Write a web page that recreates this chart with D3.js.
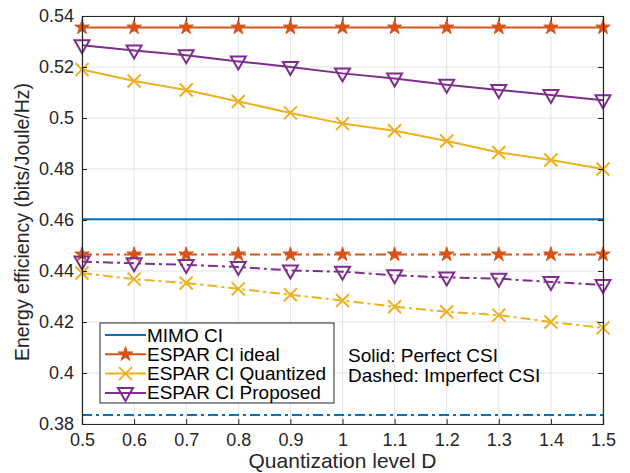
<!DOCTYPE html>
<html>
<head>
<meta charset="utf-8">
<script src="https://cdn.jsdelivr.net/npm/d3@7"></script>
<style>
  body { margin: 0; background: #fff; }
  svg { font-family: "Liberation Sans", Arial, sans-serif; }
</style>
</head>
<body>
<svg id="chart" width="630" height="473"></svg>
<script>
// data
const levels = [0.5, 0.6, 0.7, 0.8, 0.9, 1.0, 1.1, 1.2, 1.3, 1.4, 1.5];
const mimoPerfect = [0.4603, 0.4603, 0.4603, 0.4603, 0.4603, 0.4603, 0.4603, 0.4603, 0.4603, 0.4603, 0.4603];
const mimoImperfect = [0.3835, 0.3835, 0.3835, 0.3835, 0.3835, 0.3835, 0.3835, 0.3835, 0.3835, 0.3835, 0.3835];
const idealPerfect = [0.5355, 0.5355, 0.5355, 0.5355, 0.5355, 0.5355, 0.5355, 0.5355, 0.5355, 0.5355, 0.5355];
const idealImperfect = [0.4465, 0.4465, 0.4465, 0.4465, 0.4465, 0.4465, 0.4465, 0.4465, 0.4465, 0.4465, 0.4465];
const quantPerfect = [0.519, 0.5145, 0.511, 0.5065, 0.502, 0.4978, 0.495, 0.491, 0.4865, 0.4835, 0.480];
const quantImperfect = [0.4392, 0.4368, 0.4353, 0.4330, 0.4307, 0.4284, 0.4260, 0.4240, 0.4227, 0.4200, 0.4177];
const propPerfect = [0.5285, 0.5265, 0.5246, 0.5222, 0.5200, 0.5175, 0.5155, 0.5130, 0.5110, 0.5090, 0.5070];
const propImperfect = [0.4437, 0.4430, 0.4424, 0.4416, 0.4402, 0.4397, 0.4383, 0.4375, 0.4370, 0.4357, 0.4345];
const xTicks = [0.5, 0.6, 0.7, 0.8, 0.9, 1, 1.1, 1.2, 1.3, 1.4, 1.5];
const yTicks = [0.38, 0.4, 0.42, 0.44, 0.46, 0.48, 0.5, 0.52, 0.54];

const series = [
  {name: "MIMO CI", color: "#0072BD", marker: "none", perfect: mimoPerfect, imperfect: mimoImperfect},
  {name: "ESPAR CI ideal", color: "#D95319", marker: "star", perfect: idealPerfect, imperfect: idealImperfect},
  {name: "ESPAR CI Quantized", color: "#EDB120", marker: "x", perfect: quantPerfect, imperfect: quantImperfect},
  {name: "ESPAR CI Proposed", color: "#7E2F8E", marker: "tri", perfect: propPerfect, imperfect: propImperfect}
];

const svg = d3.select("#chart");
const margin = {top: 16, right: 27, bottom: 49, left: 82};
const width = 630 - margin.left - margin.right,
      height = 473 - margin.top - margin.bottom;

const g = svg.append("g").attr("transform", `translate(${margin.left},${margin.top})`);

const x = d3.scaleLinear().domain([0.5, 1.5]).range([0, width]);
const y = d3.scaleLinear().domain([0.38, 0.54]).range([height, 0]);

// grid
g.append("g").selectAll("line").data(xTicks).join("line")
  .attr("x1", d => x(d)).attr("x2", d => x(d))
  .attr("y1", 0).attr("y2", height)
  .attr("stroke", "#e3e3e3").attr("stroke-width", 1);
g.append("g").selectAll("line").data(yTicks).join("line")
  .attr("y1", d => y(d)).attr("y2", d => y(d))
  .attr("x1", 0).attr("x2", width)
  .attr("stroke", "#e3e3e3").attr("stroke-width", 1);

// markers
function drawMarker(sel, type, color) {
  if (type === "star") {
    sel.append("path")
      .attr("d", d3.symbol().type(d3.symbolStar).size(65)())
      .attr("fill", color).attr("stroke", color).attr("stroke-width", 1);
  } else if (type === "x") {
    sel.append("path").attr("d", "M-6.5,-6.5L6.5,6.5M-6.5,6.5L6.5,-6.5")
      .attr("stroke", color).attr("stroke-width", 2).attr("fill", "none");
  } else if (type === "tri") {
    sel.append("path").attr("d", "M-7.5,-5L7.5,-5L0,8Z")
      .attr("stroke", color).attr("stroke-width", 2).attr("fill", "none");
  }
}

const line = d3.line().x((d, i) => x(levels[i])).y(d => y(d));

series.forEach(s => {
  [["perfect", null], ["imperfect", "10,4,3,4"]].forEach(([key, dash]) => {
    g.append("path").datum(s[key])
      .attr("fill", "none").attr("stroke", s.color).attr("stroke-width", 2)
      .attr("stroke-dasharray", dash)
      .attr("d", line);
    if (s.marker !== "none") {
      s[key].forEach((v, i) => {
        const m = g.append("g").attr("transform", `translate(${x(levels[i])},${y(v)})`);
        drawMarker(m, s.marker, s.color);
      });
    }
  });
});

// axes (box, inward ticks)
const axisColor = "#262626";
const xAxis = g.append("g").attr("transform", `translate(0,${height})`)
  .call(d3.axisBottom(x).tickValues(xTicks).tickSize(-5).tickPadding(9).tickFormat(d3.format("")));
const xAxisTop = g.append("g")
  .call(d3.axisTop(x).tickValues(xTicks).tickSize(-5).tickFormat(""));
const yAxis = g.append("g")
  .call(d3.axisLeft(y).tickValues(yTicks).tickSize(-5).tickPadding(8).tickFormat(d3.format("")));
const yAxisRight = g.append("g").attr("transform", `translate(${width},0)`)
  .call(d3.axisRight(y).tickValues(yTicks).tickSize(-5).tickFormat(""));

[xAxis, xAxisTop, yAxis, yAxisRight].forEach(a => {
  a.select(".domain").attr("stroke", axisColor).attr("stroke-width", 1.2);
  a.selectAll(".tick line").attr("stroke", axisColor);
  a.selectAll("text").attr("fill", "#262626").style("font-size", "18px")
    .style("font-family", "Liberation Sans, Arial, sans-serif");
});

// axis labels
svg.append("text")
  .attr("x", margin.left + width / 2).attr("y", 468)
  .attr("text-anchor", "middle").attr("fill", "#262626")
  .style("font-size", "21px")
  .text("Quantization level D");
svg.append("text")
  .attr("transform", `translate(29,${margin.top + height / 2 + 2}) rotate(-90)`)
  .attr("text-anchor", "middle").attr("fill", "#262626")
  .style("font-size", "19.5px")
  .text("Energy efficiency (bits/Joule/Hz)");

// legend
const lg = svg.append("g").attr("transform", "translate(100,323)");
lg.append("rect").attr("width", 234).attr("height", 80)
  .attr("fill", "#fff").attr("stroke", "#262626").attr("stroke-width", 1);
series.forEach((s, i) => {
  const yy = 12 + i * 19.3;
  lg.append("line").attr("x1", 5).attr("x2", 46).attr("y1", yy).attr("y2", yy)
    .attr("stroke", s.color).attr("stroke-width", 2);
  if (s.marker !== "none") {
    const m = lg.append("g").attr("transform", `translate(25.5,${yy})`);
    drawMarker(m, s.marker, s.color);
  }
  lg.append("text").attr("x", 47).attr("y", yy + 6.5)
    .attr("fill", "#000").style("font-size", "19px").text(s.name);
});

// annotation
svg.append("text").attr("x", 348).attr("y", 362).attr("fill", "#000")
  .style("font-size", "19px").text("Solid: Perfect CSI");
svg.append("text").attr("x", 348).attr("y", 382).attr("fill", "#000")
  .style("font-size", "19px").text("Dashed: Imperfect CSI");
</script>
</body>
</html>
